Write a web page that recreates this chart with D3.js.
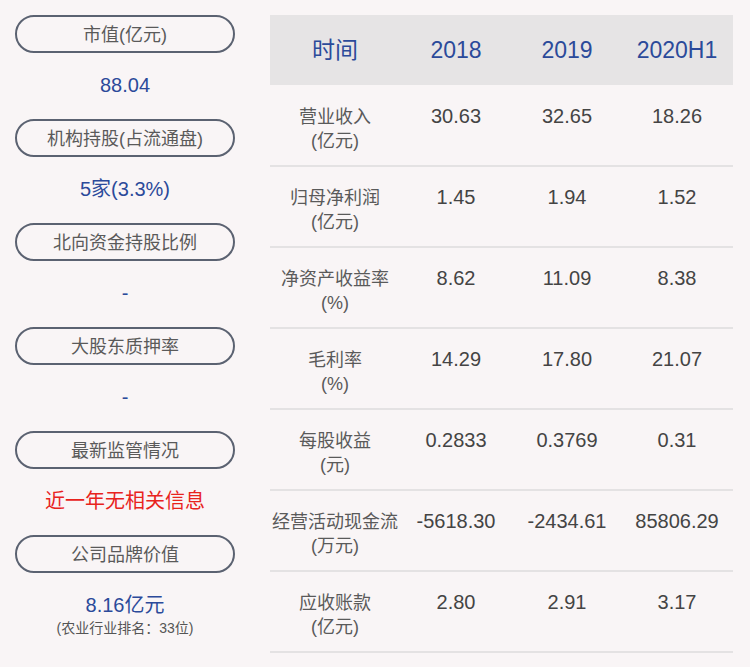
<!DOCTYPE html><html><head><meta charset="utf-8"><script src="https://cdn.jsdelivr.net/npm/d3@7"></script>
<style>body{margin:0;background:#f9f5f6}</style></head><body><svg id="c" width="750" height="667"></svg>
<script>
const leftLabels=["市值(亿元)","机构持股(占流通盘)","北向资金持股比例","大股东质押率","最新监管情况","公司品牌价值"];
const leftValues=["88.04","5家(3.3%)","-","-","近一年无相关信息","8.16亿元"];
const years=["时间","2018","2019","2020H1"];
const rowLabels=[["营业收入","(亿元)"],["归母净利润","(亿元)"],["净资产收益率","(%)"],["毛利率","(%)"],["每股收益","(元)"],["经营活动现金流","(万元)"],["应收账款","(亿元)"]];
const v2018=["30.63","1.45","8.62","14.29","0.2833","-5618.30","2.80"];
const v2019=["32.65","1.94","11.09","17.80","0.3769","-2434.61","2.91"];
const v2020=["18.26","1.52","8.38","21.07","0.31","85806.29","3.17"];
const F="'Liberation Sans','Noto Sans CJK SC',sans-serif";
const svg=d3.select("#c");
svg.append("rect").attr("width",750).attr("height",667).attr("fill","#f9f5f6");
const ly=d3.scaleLinear().domain([0,1]).range([34,138]);
leftLabels.forEach((t,i)=>{
 const y=ly(i);
 svg.append("rect").attr("x",16).attr("y",y-18).attr("width",218).attr("height",36).attr("rx",18).attr("fill","none").attr("stroke","#5b6271").attr("stroke-width",2);
 svg.append("text").attr("x",125).attr("y",y+7).attr("text-anchor","middle").attr("font-family",F).attr("font-size",18).attr("fill","#5a5a5a").text(t);
 svg.append("text").attr("x",125).attr("y",y+58).attr("text-anchor","middle").attr("font-family",F).attr("font-size",20).attr("fill",i==4?"#e8231d":"#2b4a9a").text(leftValues[i]);
});
svg.append("text").attr("x",125).attr("y",633).attr("text-anchor","middle").attr("font-family",F).attr("font-size",14).attr("fill","#555").text("(农业行业排名：33位)");
const cx=d3.scaleOrdinal().domain([0,1,2,3]).range([335,456,567,677]);
svg.append("rect").attr("x",270).attr("y",15).attr("width",463).attr("height",70).attr("fill","#e6e4e5");
years.forEach((t,i)=>svg.append("text").attr("x",cx(i)).attr("y",58).attr("text-anchor","middle").attr("font-family",F).attr("font-size",23).attr("fill","#2b4a9a").text(t));
const ry=d3.scaleLinear().domain([0,1]).range([85,166]);
rowLabels.forEach((l,i)=>{
 const y=ry(i);
 svg.append("line").attr("x1",270).attr("x2",733).attr("y1",ry(i+1)).attr("y2",ry(i+1)).attr("stroke","#dddbdc").attr("stroke-width",1.5);
 l.forEach((s,k)=>svg.append("text").attr("x",cx(0)).attr("y",y+38+k*24).attr("text-anchor","middle").attr("font-family",F).attr("font-size",18).attr("fill","#5a5a5a").text(s));
 [v2018,v2019,v2020].forEach((arr,j)=>svg.append("text").attr("x",cx(j+1)).attr("y",y+38).attr("text-anchor","middle").attr("font-family",F).attr("font-size",20).attr("fill","#444").text(arr[i]));
});
</script></body></html>
